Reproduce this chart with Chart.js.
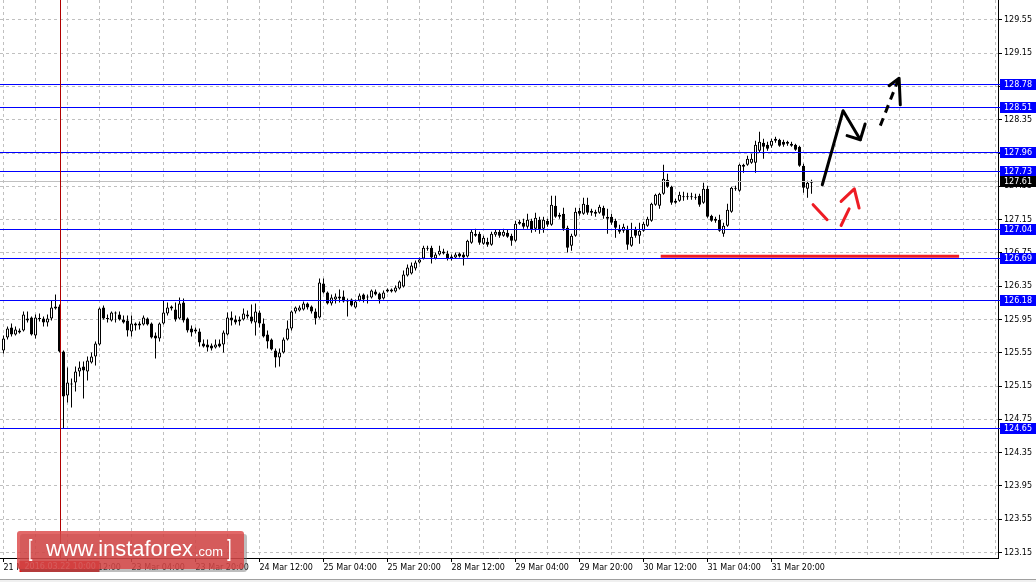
<!DOCTYPE html>
<html><head><meta charset="utf-8">
<style>html,body{margin:0;padding:0;background:#fff;overflow:hidden}canvas{display:block}</style>
<script src="https://cdn.jsdelivr.net/npm/chart.js@4.4.1/dist/chart.umd.min.js"></script>
</head><body>
<canvas id="c" width="1036" height="582"></canvas>
<script>
// ---- data (H1 candles) ----
const opens = [125.578,125.734,125.854,125.770,125.818,125.818,125.962,125.974,125.758,125.962,
125.962,125.914,125.962,126.106,126.106,125.566,125.038,125.182,125.194,125.326,
125.386,125.326,125.434,125.506,125.650,126.094,125.962,125.938,126.034,126.010,
125.950,125.938,125.806,125.902,125.878,125.890,125.962,125.902,125.758,125.722,
125.902,126.022,126.082,126.070,125.962,126.154,125.962,125.842,125.830,125.806,
125.662,125.650,125.638,125.614,125.662,125.650,125.770,125.974,125.950,125.950,
125.950,126.010,125.986,125.914,126.034,125.902,125.770,125.710,125.578,125.494,
125.554,125.710,125.842,126.046,126.058,126.070,126.142,126.106,126.046,125.974,
126.382,126.274,126.142,126.190,126.226,126.226,126.178,126.190,126.094,126.178,
126.250,126.226,126.214,126.286,126.262,126.202,126.286,126.310,126.286,126.322,
126.346,126.478,126.502,126.562,126.634,126.682,126.814,126.814,126.682,126.730,
126.742,126.742,126.706,126.694,126.742,126.730,126.706,126.874,126.982,126.982,
126.862,126.886,126.850,126.970,127.006,126.958,126.994,126.958,126.898,127.102,
127.114,127.066,127.138,127.042,127.150,127.042,127.138,127.090,127.318,127.210,
127.222,127.054,126.838,126.958,127.258,127.222,127.330,127.258,127.246,127.234,
127.294,127.186,127.186,127.138,127.042,127.018,127.042,126.838,127.030,126.958,
127.018,127.078,127.138,127.330,127.318,127.462,127.630,127.546,127.378,127.378,
127.426,127.420,127.426,127.426,127.438,127.354,127.522,127.198,127.162,127.150,
126.982,127.078,127.246,127.522,127.498,127.786,127.810,127.834,127.834,127.978,
128.074,128.050,128.038,128.098,128.110,128.086,128.086,128.062,128.050,128.026,
127.798,127.522,127.594];
const highs = [125.758,125.866,125.902,125.866,125.842,126.046,126.046,125.986,126.010,126.022,
125.986,126.010,126.178,126.250,126.130,125.578,125.374,125.242,125.386,125.446,
125.446,125.506,125.554,125.686,126.094,126.118,126.010,126.046,126.046,126.046,
125.998,125.998,125.998,125.914,125.926,125.998,125.974,125.914,125.794,125.914,
126.178,126.154,126.118,126.154,126.214,126.202,125.974,125.878,125.854,125.842,
125.710,125.710,125.662,125.710,125.710,125.818,126.034,126.046,125.998,125.986,
126.082,126.058,126.130,126.142,126.058,125.962,125.818,125.722,125.602,125.602,
125.734,125.938,126.058,126.106,126.118,126.166,126.154,126.118,126.082,126.442,
126.442,126.286,126.250,126.262,126.310,126.298,126.202,126.202,126.190,126.262,
126.262,126.250,126.310,126.310,126.274,126.298,126.322,126.322,126.358,126.418,
126.538,126.610,126.634,126.658,126.694,126.838,126.838,126.838,126.754,126.838,
126.802,126.778,126.730,126.754,126.754,126.754,126.910,127.030,127.042,127.006,
126.958,126.934,127.006,127.030,127.030,127.042,127.030,126.982,127.138,127.150,
127.162,127.222,127.162,127.234,127.186,127.186,127.162,127.438,127.438,127.234,
127.294,127.078,126.982,127.294,127.294,127.414,127.414,127.282,127.270,127.330,
127.318,127.282,127.222,127.162,127.090,127.102,127.078,127.114,127.066,127.114,
127.126,127.186,127.354,127.462,127.474,127.810,127.702,127.558,127.402,127.486,
127.486,127.474,127.474,127.462,127.462,127.594,127.558,127.210,127.186,127.210,
127.114,127.342,127.546,127.558,127.822,127.822,127.918,127.942,128.098,128.206,
128.122,128.086,128.122,128.146,128.122,128.110,128.098,128.086,128.062,128.038,
127.822,127.618,127.630];
const lows = [125.542,125.710,125.746,125.758,125.782,125.806,125.914,125.758,125.722,125.926,
125.866,125.866,125.938,126.070,125.554,124.642,124.954,124.894,125.086,125.266,
125.002,125.218,125.422,125.398,125.638,125.950,125.914,125.926,125.914,125.938,
125.902,125.746,125.746,125.818,125.830,125.878,125.878,125.722,125.482,125.686,
125.890,125.998,126.058,125.926,125.950,125.914,125.794,125.746,125.782,125.626,
125.614,125.566,125.578,125.602,125.614,125.554,125.758,125.878,125.890,125.878,
125.938,125.962,125.902,125.758,125.854,125.734,125.602,125.578,125.374,125.386,
125.542,125.698,125.818,126.022,126.046,126.058,126.070,126.022,125.890,125.962,
126.262,126.130,126.118,126.142,126.154,126.154,125.986,126.106,126.082,126.166,
126.154,126.142,126.202,126.238,126.142,126.190,126.274,126.274,126.274,126.310,
126.334,126.466,126.490,126.538,126.622,126.670,126.778,126.622,126.670,126.718,
126.730,126.658,126.658,126.682,126.694,126.598,126.694,126.862,126.946,126.850,
126.850,126.826,126.838,126.946,126.934,126.946,126.934,126.838,126.886,127.090,
127.042,127.042,126.994,127.006,126.982,126.994,127.066,127.078,127.174,127.162,
127.018,126.754,126.778,126.946,127.198,127.210,127.210,127.198,127.186,127.222,
127.162,126.982,127.090,126.934,126.982,126.994,126.790,126.826,126.934,126.862,
127.006,127.066,127.126,127.318,127.282,127.450,127.534,127.330,127.342,127.366,
127.378,127.390,127.390,127.390,127.306,127.342,127.174,127.126,127.114,127.006,
126.946,127.066,127.234,127.498,127.486,127.714,127.798,127.822,127.714,127.954,
127.882,127.978,128.014,128.074,128.026,128.026,128.038,128.026,127.978,127.786,
127.474,127.414,127.462];
const closes = [125.722,125.842,125.770,125.830,125.794,126.010,125.938,125.770,125.974,125.956,
125.914,125.962,126.094,126.082,125.566,125.026,125.194,125.170,125.326,125.374,
125.338,125.458,125.506,125.662,126.082,125.962,125.956,126.034,126.022,125.950,
125.914,125.818,125.902,125.878,125.902,125.974,125.890,125.734,125.722,125.902,
126.034,126.094,126.106,125.950,126.142,125.938,125.818,125.794,125.806,125.674,
125.626,125.614,125.602,125.650,125.626,125.794,125.974,125.938,125.914,125.926,
126.022,125.986,125.926,126.046,125.902,125.746,125.686,125.590,125.494,125.554,
125.710,125.842,126.046,126.094,126.094,126.142,126.094,126.046,125.962,126.394,
126.274,126.142,126.214,126.226,126.202,126.166,126.166,126.118,126.166,126.238,
126.190,126.214,126.298,126.250,126.190,126.274,126.310,126.286,126.334,126.406,
126.490,126.574,126.598,126.634,126.670,126.814,126.802,126.694,126.730,126.778,
126.766,126.682,126.682,126.730,126.706,126.694,126.898,127.006,126.958,126.874,
126.934,126.850,126.982,127.006,126.958,127.006,126.946,126.898,127.102,127.126,
127.066,127.150,127.030,127.174,127.030,127.150,127.090,127.330,127.186,127.186,
127.042,126.814,126.958,127.246,127.222,127.342,127.234,127.234,127.222,127.306,
127.198,127.162,127.114,127.054,127.006,127.066,126.850,126.946,126.958,127.018,
127.102,127.162,127.342,127.450,127.462,127.642,127.546,127.354,127.354,127.450,
127.420,127.426,127.420,127.414,127.330,127.522,127.186,127.138,127.138,127.018,
127.078,127.270,127.534,127.534,127.810,127.810,127.882,127.882,128.050,128.086,
128.026,128.002,128.098,128.122,128.038,128.050,128.062,128.038,127.990,127.798,
127.534,127.594,127.610];

const timeLabels = ["21 Mar 20:00","22 Mar 12:00","23 Mar 04:00","23 Mar 20:00","24 Mar 12:00",
  "25 Mar 04:00","25 Mar 20:00","28 Mar 12:00","29 Mar 04:00","29 Mar 20:00",
  "30 Mar 12:00","31 Mar 04:00","31 Mar 20:00"];
const barsPerLabel = 16;
const barsPerGrid = 8;
const priceTicks = [123.15,123.55,123.95,124.35,124.75,125.15,125.55,125.95,126.35,126.75,
  127.15,127.55,127.95,128.35,128.75,129.15,129.55];
const levels = [128.78,128.51,127.96,127.73,127.04,126.69,126.18,124.65];
const lastPrice = 127.61;
const markerIndex = 14;
const markerText = "2016.03.22 10:00";
const supportFrom = 164.3, supportTo = 238.9, supportPrice = 126.71;
// hand-drawn forecast arrows, in [bar index, price]
const blackPath = [[204.7,127.57],[209.9,128.46],[214.2,128.11]];
const blackHead = [[210.9,128.16],[214.2,128.11],[215.4,128.30]];
const dashedPath = [[219.2,128.28],[223.6,128.82]];
const dashedHead = [[221.4,128.76],[223.9,128.85],[224.2,128.53]];
const redDash1 = [[202.4,127.33],[205.9,127.15]];
const redDash2 = [[209.4,127.08],[211.4,127.28]];
const redHead = [[209.4,127.37],[212.7,127.52],[213.9,127.29]];

// ---- build datasets ----
const idx = closes.map((_, i) => i);
const wickData = idx.map(i => ({x: i, y: [lows[i], highs[i]]}));
const bodyData = idx.map(i => ({x: i, y: [Math.min(opens[i], closes[i]), Math.max(opens[i], closes[i])]}));
const bodyFill = idx.map(i => closes[i] >= opens[i] ? '#ffffff' : '#000000');

const FONT = 'DejaVu Sans';
Chart.defaults.font.family = FONT;
Chart.defaults.font.size = 8;
Chart.defaults.color = '#000';

function labelFor(v) {
  if (v % barsPerLabel !== 0) return '';
  const k = v / barsPerLabel;
  return k < timeLabels.length ? timeLabels[k] : '';
}
function strokePts(ctx, pts, xs, ys) {
  ctx.beginPath();
  pts.forEach((p, i) => {
    const px = xs.getPixelForValue(p[0]), py = ys.getPixelForValue(p[1]);
    if (i) ctx.lineTo(px, py); else ctx.moveTo(px, py);
  });
  ctx.stroke();
}

const overlay = {
  id: 'overlay',
  beforeDraw(chart) {
    const c = chart.ctx; c.save(); c.fillStyle = '#fff'; c.fillRect(0, 0, chart.width, chart.height); c.restore();
  },
  afterDatasetsDraw(chart) {
    const {ctx, chartArea: a, scales: {x, y}} = chart;
    ctx.save();
    ctx.lineWidth = 1;
    // bid line
    let py = Math.round(y.getPixelForValue(lastPrice)) + 0.5;
    ctx.strokeStyle = '#c0c0c0';
    ctx.beginPath(); ctx.moveTo(a.left, py); ctx.lineTo(a.right, py); ctx.stroke();
    // horizontal levels
    ctx.strokeStyle = '#0000ff';
    levels.forEach(v => {
      const ly = Math.round(y.getPixelForValue(v)) + 0.5;
      ctx.beginPath(); ctx.moveTo(a.left, ly); ctx.lineTo(a.right + 2, ly); ctx.stroke();
    });
    // vertical marker
    const mx = Math.round(x.getPixelForValue(markerIndex)) + 0.5;
    ctx.strokeStyle = '#b00000';
    ctx.beginPath(); ctx.moveTo(mx, a.top); ctx.lineTo(mx, a.bottom); ctx.stroke();
    // support line
    ctx.strokeStyle = '#ee1c24'; ctx.lineWidth = 3;
    const sy = y.getPixelForValue(supportPrice);
    ctx.beginPath(); ctx.moveTo(x.getPixelForValue(supportFrom), sy); ctx.lineTo(x.getPixelForValue(supportTo), sy); ctx.stroke();
    // arrows
    ctx.lineCap = 'round'; ctx.lineJoin = 'round';
    ctx.strokeStyle = '#000'; ctx.lineWidth = 3;
    strokePts(ctx, blackPath, x, y);
    strokePts(ctx, blackHead, x, y);
    ctx.lineCap = 'butt';
    ctx.setLineDash([8, 6]);
    strokePts(ctx, dashedPath, x, y);
    ctx.setLineDash([]);
    ctx.lineCap = 'round';
    strokePts(ctx, dashedHead, x, y);
    ctx.strokeStyle = '#ee1c24';
    strokePts(ctx, redDash1, x, y);
    strokePts(ctx, redDash2, x, y);
    strokePts(ctx, redHead, x, y);
    ctx.restore();
  },
  afterDraw(chart) {
    const {ctx, chartArea: a, scales: {x, y}} = chart;
    ctx.save();
    ctx.font = '8px "' + FONT + '"';
    ctx.textBaseline = 'middle';
    ctx.textAlign = 'left';
    // level boxes on the price axis
    const box = (v, bg) => {
      const py = Math.round(y.getPixelForValue(v));
      ctx.fillStyle = bg; ctx.fillRect(a.right + 2, py - 5, 36, 11);
      ctx.fillStyle = '#fff'; ctx.fillText(v.toFixed(2), a.right + 6, py + 0.5);
    };
    levels.forEach(v => box(v, '#0000ff'));
    box(lastPrice, '#000000');
    // date marker label
    const mx = x.getPixelForValue(markerIndex);
    ctx.fillStyle = '#ee1111';
    ctx.fillRect(mx - 40, a.bottom + 3, 80, 11);
    ctx.fillStyle = '#fff';
    ctx.fillText(markerText, mx - 35, a.bottom + 9);
    // logo
    const lx = 17, ly = 531, lw = 227, lh = 38;
    ctx.fillStyle = 'rgba(110,110,110,0.45)';
    ctx.beginPath(); ctx.roundRect(lx + 3, ly + 3, lw, lh, 3); ctx.fill();
    ctx.fillStyle = 'rgba(219,66,66,0.8)';
    ctx.beginPath(); ctx.roundRect(lx, ly, lw, lh, 3); ctx.fill();
    ctx.fillStyle = '#fff';
    ctx.textBaseline = 'alphabetic';
    ctx.font = '22px "Liberation Sans"';
    let w = ctx.measureText('www.instaforex').width;
    ctx.font = (22 * 147 / w).toFixed(2) + 'px "Liberation Sans"';
    ctx.fillText('www.instaforex', 46, 556);
    ctx.font = '15px "Liberation Sans"';
    w = ctx.measureText('.com').width;
    ctx.font = (15 * 28 / w).toFixed(2) + 'px "Liberation Sans"';
    ctx.fillText('.com', 195, 556);
    ctx.font = '24px "DejaVu Sans"';
    ctx.save(); ctx.scale(0.6, 1);
    ctx.fillText('[', 28 / 0.6, 558);
    ctx.fillText(']', 226 / 0.6, 558);
    ctx.restore();
    // window bottom edge
    ctx.fillStyle = '#a0a0a0'; ctx.fillRect(0, 579, chart.width, 1);
    ctx.fillStyle = '#f0f0f0'; ctx.fillRect(0, 580, chart.width, 2);
    ctx.restore();
  }
};

new Chart(document.getElementById('c'), {
  type: 'bar',
  data: {
    datasets: [
      {data: bodyData, backgroundColor: bodyFill, borderColor: '#000', borderWidth: 1, borderSkipped: false,
       barThickness: 3, grouped: false, minBarLength: 1, inflateAmount: 0, order: 1},
      {data: wickData, backgroundColor: '#000', borderWidth: 0, barThickness: 1, grouped: false,
       inflateAmount: 0, order: 2}
    ]
  },
  options: {
    responsive: false, animation: false,
    layout: {padding: 0},
    plugins: {legend: {display: false}, tooltip: {enabled: false}},
    scales: {
      x: {
        type: 'linear', position: 'bottom', min: -0.875, max: 248.625, offset: false,
        afterBuildTicks: s => { const t = []; for (let v = 0; v <= 248; v += barsPerGrid) t.push({value: v}); s.ticks = t; },
        afterFit: s => { s.height = 24; s.paddingLeft = 0; s.paddingRight = 0; },
        ticks: {autoSkip: false, maxRotation: 0, minRotation: 0, align: 'start', padding: 1,
                callback: v => labelFor(v), font: {family: FONT, size: 8}, color: '#000'},
        grid: {offset: false, color: '#c0c0c0', lineWidth: 1, tickLength: 4,
               tickColor: c => (c.tick && labelFor(c.tick.value)) ? '#000' : 'rgba(0,0,0,0)'},
        border: {display: true, color: '#000', width: 1, dash: [3, 3]}
      },
      y: {
        type: 'linear', position: 'right', min: 123.084, max: 129.79,
        afterBuildTicks: s => { s.ticks = priceTicks.map(v => ({value: v})); },
        afterFit: s => { s.width = 38; s.paddingTop = 0; s.paddingBottom = 0; },
        ticks: {autoSkip: false, padding: 2, callback: v => Number(v).toFixed(2),
                font: {family: FONT, size: 8}, color: '#000'},
        grid: {color: '#c0c0c0', lineWidth: 1, tickLength: 4, tickColor: '#000'},
        border: {display: true, color: '#000', width: 1, dash: [3, 3]}
      }
    }
  },
  plugins: [overlay]
});
</script>
</body></html>
